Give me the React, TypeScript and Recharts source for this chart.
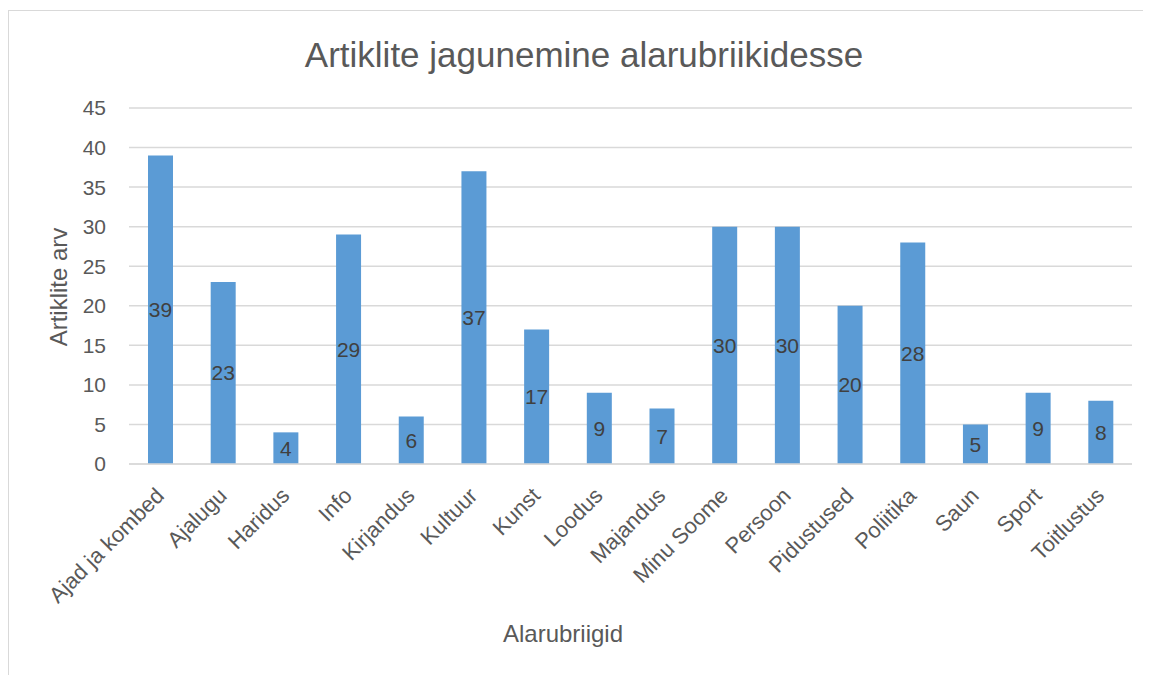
import React from 'react';
import { BarChart, Bar, XAxis, YAxis, CartesianGrid, LabelList } from 'recharts';

const categories = [
  'Ajad ja kombed', 'Ajalugu', 'Haridus', 'Info', 'Kirjandus', 'Kultuur', 'Kunst', 'Loodus',
  'Majandus', 'Minu Soome', 'Persoon', 'Pidustused', 'Poliitika', 'Saun', 'Sport', 'Toitlustus',
];
const counts = [39, 23, 4, 29, 6, 37, 17, 9, 7, 30, 30, 20, 28, 5, 9, 8];
const yTicks = [0, 5, 10, 15, 20, 25, 30, 35, 40, 45];
const title = 'Artiklite jagunemine alarubriikidesse';
const yTitle = 'Artiklite arv';
const xTitle = 'Alarubriigid';

const data = categories.map((name, i) => ({ name, value: counts[i] }));

const FONT = '"Liberation Sans", Arial, sans-serif';
const W = 1143;
const H = 667;

const CategoryTick = (props: any) => {
  const { x, y, payload } = props;
  const ax = x + 5;
  const ay = y + 33;
  return (
    <text
      x={ax}
      y={ay}
      transform={`rotate(-45, ${ax}, ${ay})`}
      textAnchor="end"
      fill="#595959"
      fontSize={22}
      fontFamily={FONT}
    >
      {payload.value}
    </text>
  );
};

export default function App() {
  return (
    <div style={{ position: 'relative', width: W, height: H, background: '#fff' }}>
      <div
        style={{
          position: 'absolute',
          left: 0,
          top: 2,
          width: W + 10,
          height: H + 10,
          borderTop: '1.5px solid #d9d9d9',
          borderLeft: '1.5px solid #d9d9d9',
          boxSizing: 'border-box',
        }}
      />
      <div style={{ position: 'absolute', left: 0, top: 0 }}>
        <BarChart
          width={W}
          height={H}
          data={data}
          margin={{ top: 100, right: 19, bottom: 0, left: 61 }}
          barCategoryGap="30%"
        >
          <CartesianGrid vertical={false} stroke="#d9d9d9" strokeWidth={1.5} />
          <XAxis
            dataKey="name"
            interval={0}
            height={211}
            tickLine={false}
            axisLine={{ stroke: '#d9d9d9', strokeWidth: 1.5 }}
            tickSize={0}
            tickMargin={0}
            tick={<CategoryTick />}
          />
          <YAxis
            width={60}
            domain={[0, 45]}
            ticks={yTicks}
            interval={0}
            axisLine={false}
            tickLine={false}
            tickSize={0}
            tickMargin={23}
            tick={{ fill: '#595959', fontSize: 21, fontFamily: FONT }}
          />
          <Bar dataKey="value" fill="#5B9BD5" barSize={25} isAnimationActive={false}>
            <LabelList
              dataKey="value"
              position="center"
              fill="#404040"
              fontSize={21}
              fontFamily={FONT}
            />
          </Bar>
        </BarChart>
      </div>
      <svg
        width={W}
        height={H}
        style={{ position: 'absolute', left: 0, top: 0, pointerEvents: 'none' }}
      >
        <text x={576} y={59} textAnchor="middle" fill="#595959" fontSize={35} fontFamily={FONT}>
          {title}
        </text>
        <text
          x={59}
          y={279}
          transform="rotate(-90, 59, 279)"
          textAnchor="middle"
          fill="#595959"
          fontSize={24}
          fontFamily={FONT}
        >
          {yTitle}
        </text>
        <text x={555} y={634} textAnchor="middle" fill="#595959" fontSize={24} fontFamily={FONT}>
          {xTitle}
        </text>
      </svg>
    </div>
  );
}
